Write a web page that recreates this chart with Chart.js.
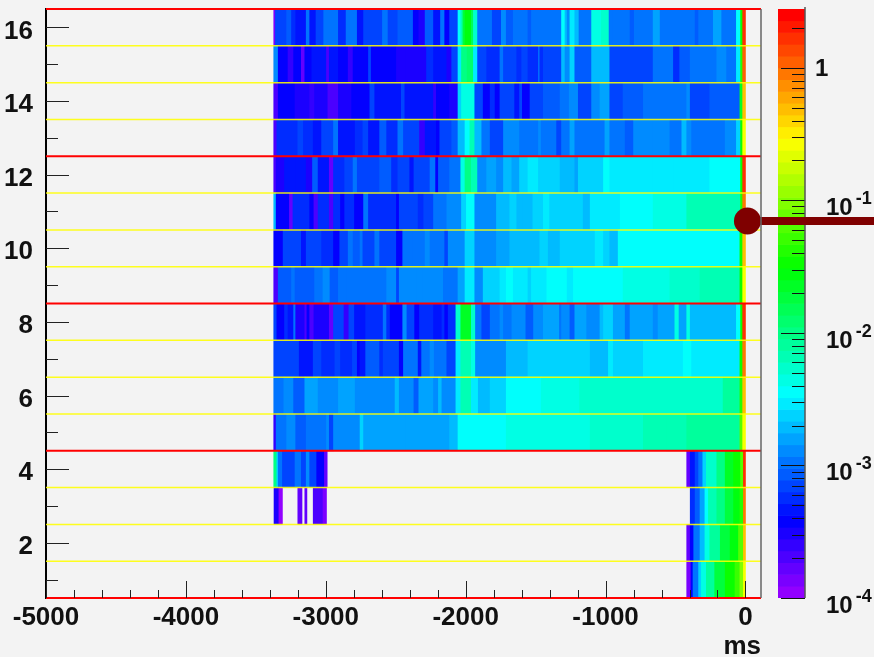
<!DOCTYPE html>
<html>
<head>
<meta charset="utf-8">
<script src="https://cdn.jsdelivr.net/npm/chart.js@4"></script>
<style>
html,body{margin:0;padding:0;background:#f3f3f3;width:874px;height:657px;overflow:hidden}
canvas{position:absolute;top:0;display:block}
#bar{left:760px}
#main{left:0}
</style>
</head>
<body>
<canvas id="bar" width="114" height="657"></canvas>
<canvas id="main" width="874" height="657"></canvas>
<script>
// Each row: [start in ms, amplitude] runs; amplitude null closes a run (empty cells follow).
const row16=[[-3372,1.3e-4],[-3360,7.5e-4],[-3280,8.7e-4],[-3245,5.6e-4],[-3215,4.2e-4],[-3140,9.7e-4],[-3115,4.5e-4],[-3070,7.5e-4],[-3015,1.07e-3],[-2910,5.2e-4],[-2855,9.7e-4],[-2775,4.7e-4],[-2730,7.5e-4],[-2595,1.07e-3],[-2555,6.7e-4],[-2485,8.7e-4],[-2375,3.9e-4],[-2335,3e-4],[-2290,8.1e-4],[-2230,4.2e-4],[-2180,1.16e-3],[-2150,3.9e-4],[-2115,6.7e-4],[-2055,3.5e-3],[-2035,7.2e-3],[-2020,1.8e-2],[-2005,2.6e-2],[-1960,1.5e-2],[-1945,5e-3],[-1915,1.07e-3],[-1850,1.16e-3],[-1810,7.5e-4],[-1745,1.25e-3],[-1710,8.1e-4],[-1660,1.07e-3],[-1615,1.16e-3],[-1555,8.1e-4],[-1530,1e-3],[-1460,1.16e-3],[-1315,3.5e-3],[-1290,1.8e-3],[-1275,1.25e-3],[-1255,2.9e-3],[-1220,1.8e-3],[-1190,1e-3],[-1100,4.7e-3],[-1030,5.4e-3],[-975,1.16e-3],[-945,1.07e-3],[-825,8.7e-4],[-795,1.16e-3],[-660,1.5e-3],[-610,1.16e-3],[-540,1.16e-3],[-360,8.7e-4],[-335,1.16e-3],[-230,1.5e-3],[-170,1.16e-3],[-65,3.5e-3],[-35,3.1e-2],[-20,1.65],[0,null]];
const row15=[[-3372,1.4e-3],[-3340,3.9e-4],[-3270,2.5e-4],[-3230,3.9e-4],[-3175,1.75e-4],[-3150,3.9e-4],[-3100,4.7e-4],[-2995,2e-4],[-2975,4.2e-4],[-2910,3.9e-4],[-2840,2.7e-4],[-2805,3.9e-4],[-2695,6.7e-4],[-2675,3.9e-4],[-2495,2.9e-4],[-2425,3.3e-4],[-2280,5.6e-4],[-2230,4.2e-4],[-2135,3.2e-4],[-2100,6.7e-4],[-2055,2.9e-3],[-2030,1.04e-2],[-1990,1.25e-2],[-1945,2.9e-3],[-1915,6.7e-4],[-1850,6e-4],[-1755,9.7e-4],[-1730,6.7e-4],[-1635,5.6e-4],[-1600,6.7e-4],[-1555,6e-4],[-1480,9.7e-4],[-1470,5.2e-4],[-1445,7.5e-4],[-1315,2e-3],[-1290,1.4e-3],[-1255,2.25e-3],[-1220,8.7e-4],[-1100,2e-3],[-1040,1.9e-3],[-970,6.7e-4],[-945,7.5e-4],[-660,1e-3],[-515,5.6e-4],[-470,8.7e-4],[-395,1e-3],[-205,1.25e-3],[-135,1e-3],[-65,2.9e-3],[-35,4.4e-2],[-20,1.15],[0,null]];
const row14=[[-3372,2.25e-4],[-3340,3.9e-4],[-3220,3.2e-4],[-3115,2.5e-4],[-3080,3.2e-4],[-2985,2.2e-4],[-2910,3.4e-4],[-2815,3.9e-4],[-2685,6.7e-4],[-2650,4.2e-4],[-2460,7.5e-4],[-2435,4.7e-4],[-2230,2.5e-4],[-2210,3.9e-4],[-2115,3.2e-4],[-2055,2.4e-3],[-2030,4.7e-3],[-1935,6.7e-4],[-1875,3.9e-4],[-1825,5.6e-4],[-1790,3.9e-4],[-1755,6.7e-4],[-1650,4.2e-4],[-1615,6.7e-4],[-1595,3.9e-4],[-1540,7.5e-4],[-1445,8.7e-4],[-1325,1.16e-3],[-1260,1.25e-3],[-1195,6.7e-4],[-1100,1.4e-3],[-1040,1.7e-3],[-970,7.5e-4],[-875,8.1e-4],[-730,9.7e-4],[-420,1.4e-3],[-395,7.5e-4],[-255,9e-4],[-40,2.1e-2],[-20,.54],[0,null]];
const row13=[[-3372,2.25e-4],[-3350,5.2e-4],[-3200,7.5e-4],[-3160,5.2e-4],[-3090,4.2e-4],[-3030,7.5e-4],[-3005,6.7e-4],[-2945,9.7e-4],[-2910,4.2e-4],[-2790,6e-4],[-2735,7.5e-4],[-2695,4.7e-4],[-2615,8.7e-4],[-2565,5.2e-4],[-2485,9.7e-4],[-2445,6.7e-4],[-2330,2.7e-4],[-2290,4.7e-4],[-2210,3.9e-4],[-2185,6.7e-4],[-2100,8.7e-4],[-2055,2e-3],[-2005,3.5e-3],[-1970,6e-3],[-1935,2e-3],[-1885,9.7e-4],[-1825,7.5e-4],[-1730,1.4e-3],[-1615,9.7e-4],[-1480,1.4e-3],[-1460,1.16e-3],[-1350,6.7e-4],[-1315,1.16e-3],[-1255,1.7e-3],[-1220,1.07e-3],[-1005,1.7e-3],[-970,9.7e-4],[-860,8.1e-4],[-800,1.25e-3],[-660,1.4e-3],[-540,1.16e-3],[-455,1.8e-3],[-420,1.4e-3],[-385,1.16e-3],[-145,1.3e-3],[-65,2.4e-3],[-35,3.1e-2],[-20,.27],[0,null]];
const row12=[[-3372,2e-4],[-3355,3.2e-4],[-3295,4.2e-4],[-3215,4.7e-4],[-3140,3.1e-4],[-3095,8.7e-4],[-3055,4.7e-4],[-2975,1.75e-4],[-2945,5.2e-4],[-2865,6.7e-4],[-2805,9.7e-4],[-2775,7.5e-4],[-2615,8.7e-4],[-2530,5.2e-4],[-2485,7.5e-4],[-2400,4.2e-4],[-2370,7.5e-4],[-2255,1.07e-3],[-2215,3.9e-4],[-2195,8.7e-4],[-2115,1.16e-3],[-2035,4.2e-3],[-2005,1.04e-2],[-1960,6e-3],[-1915,1.4e-3],[-1850,1.7e-3],[-1780,1.4e-3],[-1730,2e-3],[-1670,1.7e-3],[-1615,2.4e-3],[-1555,2.7e-3],[-1480,2.4e-3],[-1325,2e-3],[-1220,1.7e-3],[-1195,2.4e-3],[-1015,3.5e-3],[-970,3.1e-3],[-875,2.9e-3],[-660,2.7e-3],[-515,3.1e-3],[-255,3.8e-3],[-35,3.1e-2],[-20,1.65],[0,null]];
const row11=[[-3372,2e-3],[-3355,3.9e-4],[-3260,1.75e-4],[-3235,5.2e-4],[-3115,3.5e-4],[-3085,2e-4],[-3055,5.2e-4],[-2975,2.25e-4],[-2945,6e-4],[-2895,3.9e-4],[-2865,5.2e-4],[-2795,3.5e-4],[-2730,1.16e-3],[-2695,6e-4],[-2495,3.5e-4],[-2475,7.5e-4],[-2340,5.6e-4],[-2300,6.7e-4],[-2230,9.7e-4],[-2135,1.25e-3],[-2030,2.4e-3],[-1995,3.8e-3],[-1935,1.4e-3],[-1780,2e-3],[-1685,2.4e-3],[-1635,2e-3],[-1590,2e-3],[-1520,2.4e-3],[-1445,2.9e-3],[-1400,2.2e-3],[-1230,2.6e-3],[-1160,2e-3],[-1110,3.1e-3],[-895,3.5e-3],[-660,4.2e-3],[-420,6e-3],[-255,7.2e-3],[-35,4.4e-2],[-20,.95],[0,null]];
const row10=[[-3372,3.9e-4],[-3305,6.7e-4],[-3175,4.7e-4],[-3140,7.5e-4],[-3030,6e-4],[-2945,3.9e-4],[-2900,6.7e-4],[-2840,1.16e-3],[-2805,8.7e-4],[-2755,1.07e-3],[-2735,7.5e-4],[-2650,1.07e-3],[-2615,7.5e-4],[-2495,3.9e-4],[-2450,1.07e-3],[-2375,9.7e-4],[-2290,1.4e-3],[-2255,9.7e-4],[-2150,7.5e-4],[-2125,1.4e-3],[-2005,2.4e-3],[-1935,1.4e-3],[-1780,1.5e-3],[-1685,2e-3],[-1470,2.4e-3],[-1410,2e-3],[-1325,2.25e-3],[-1075,2.9e-3],[-1015,2.6e-3],[-970,2e-3],[-910,3.5e-3],[-515,3.8e-3],[-40,3.7e-2],[-20,.54],[0,null]];
const row9=[[-3372,2.25e-4],[-3340,8.1e-4],[-3245,1.16e-3],[-3220,8.1e-4],[-3080,1.07e-3],[-3020,1.25e-3],[-2970,8.7e-4],[-2910,1.07e-3],[-2850,9.7e-4],[-2565,1.4e-3],[-2495,6.7e-4],[-2475,1.25e-3],[-2350,1.4e-3],[-2305,1.25e-3],[-2160,1.07e-3],[-2055,1.7e-3],[-2005,2.9e-3],[-1935,1.4e-3],[-1875,2.4e-3],[-1755,2.9e-3],[-1710,3.5e-3],[-1660,2.7e-3],[-1555,2.25e-3],[-1530,2.9e-3],[-1420,3.8e-3],[-1275,2.9e-3],[-1230,3.5e-3],[-875,4.2e-3],[-540,5e-3],[-325,6e-3],[-40,3.7e-2],[-20,.27],[0,null]];
const row8=[[-3372,6.7e-4],[-3350,3.9e-4],[-3295,5.2e-4],[-3270,4.2e-4],[-3230,1.16e-3],[-3215,3.2e-4],[-3150,2.25e-4],[-3135,3.9e-4],[-3115,2e-4],[-3085,3e-4],[-2975,1.6e-4],[-2945,6.7e-4],[-2870,2.7e-4],[-2835,6.7e-4],[-2795,4.2e-4],[-2715,5.2e-4],[-2590,9.7e-4],[-2565,6e-4],[-2540,3.9e-4],[-2450,1.25e-3],[-2420,6.7e-4],[-2365,3.9e-4],[-2330,5.6e-4],[-2230,4.2e-4],[-2170,5.6e-4],[-2150,3.5e-4],[-2125,5.2e-4],[-2070,5e-3],[-2035,2.1e-2],[-1960,5e-3],[-1930,9.7e-4],[-1885,7.5e-4],[-1825,9.7e-4],[-1790,1.16e-3],[-1755,1.4e-3],[-1730,1.07e-3],[-1670,1.4e-3],[-1570,8.7e-4],[-1515,1.4e-3],[-1445,1.7e-3],[-1330,9.7e-4],[-1315,1.25e-3],[-1255,8.7e-4],[-1220,1.7e-3],[-1135,1.4e-3],[-1040,2e-3],[-1015,2.4e-3],[-945,1.5e-3],[-860,1.07e-3],[-825,1.7e-3],[-660,1.25e-3],[-625,1.7e-3],[-505,4.2e-3],[-475,1.7e-3],[-420,4.2e-3],[-395,1.8e-3],[-65,3.5e-3],[-35,3.1e-2],[-20,1.65],[0,null]];
const row7=[[-3372,7.5e-4],[-3190,4.7e-4],[-3090,6.7e-4],[-3030,5.2e-4],[-2935,7.5e-4],[-2895,5.2e-4],[-2810,6.7e-4],[-2775,3.9e-4],[-2755,4.7e-4],[-2715,8.7e-4],[-2615,5.2e-4],[-2590,6.7e-4],[-2475,3.9e-4],[-2445,9.7e-4],[-2340,4.7e-4],[-2315,1.07e-3],[-2255,1.4e-3],[-2225,1.07e-3],[-2135,7.5e-4],[-2070,2.9e-3],[-2035,7.2e-3],[-1960,4.2e-3],[-1930,1.4e-3],[-1710,2e-3],[-1555,2.2e-3],[-1480,2.25e-3],[-1110,1.9e-3],[-980,2.9e-3],[-945,2.25e-3],[-730,2.7e-3],[-565,3.1e-3],[-505,2.9e-3],[-445,3.8e-3],[-385,3.1e-3],[-40,3.7e-2],[-20,.95],[0,null]];
const row6=[[-3372,1.03e-3],[-3300,1.3e-3],[-3230,8.7e-4],[-3150,1.5e-3],[-3055,1.4e-3],[-2910,1.7e-3],[-2790,1.4e-3],[-2505,1.8e-3],[-2475,1.4e-3],[-2370,8.7e-4],[-2335,1.7e-3],[-2230,1.3e-3],[-2195,2e-3],[-2170,1.4e-3],[-2070,2.9e-3],[-2035,6e-3],[-1960,2.9e-3],[-1910,2e-3],[-1825,2.6e-3],[-1710,3.5e-3],[-1565,3.8e-3],[-1460,4.7e-3],[-1185,5e-3],[-1015,5.6e-3],[-160,8.6e-3],[-40,4.4e-2],[-20,.54],[0,null]];
const row5=[[-3372,2.7e-4],[-3355,9.7e-4],[-3280,1.4e-3],[-3215,8.7e-4],[-3140,1.07e-3],[-2995,1.4e-3],[-2975,7.5e-4],[-2945,1.4e-3],[-2755,2.4e-3],[-2730,1.7e-3],[-2425,1.5e-3],[-2115,2e-3],[-2055,3.5e-3],[-1995,3.8e-3],[-1945,3.5e-3],[-1825,3.8e-3],[-1710,4.2e-3],[-1445,4.7e-3],[-1110,5.4e-3],[-730,6e-3],[-565,7.2e-3],[-420,8.6e-3],[-40,6.3e-2],[-20,.27],[0,null]];
const row4=[[-3372,1.04e-2],[-3350,2.4e-3],[-3340,9.7e-4],[-3310,6.7e-4],[-3220,1.16e-3],[-3175,6.7e-4],[-3140,1.25e-3],[-3115,6.7e-4],[-3065,3.9e-4],[-3010,1.75e-4],[-2990,null],[-420,1.75e-4],[-395,4.7e-4],[-360,6.7e-4],[-335,1.16e-3],[-305,2.4e-3],[-280,5e-3],[-205,1.04e-2],[-145,2.1e-2],[-85,3.1e-2],[-35,6.3e-2],[-15,1.8],[0,null]];
const row3=[[-3370,3.2e-4],[-3335,1.2e-4],[-3310,null],[-3200,1.75e-4],[-3170,null],[-3150,1.6e-4],[-3135,null],[-3090,2.25e-4],[-3020,1.3e-4],[-2995,null],[-395,5.6e-4],[-360,8.7e-4],[-325,1.7e-3],[-290,3.5e-3],[-265,6e-3],[-205,1.04e-2],[-145,1.8e-2],[-85,2.6e-2],[-40,4.4e-2],[-15,.95],[0,null]];
const row2=[[-420,1.75e-4],[-395,3.9e-4],[-370,9.7e-4],[-325,2e-3],[-290,4.2e-3],[-255,8.6e-3],[-180,1.8e-2],[-110,2.9e-2],[-50,6.3e-2],[-15,.54],[0,null]];
const row1=[[-420,1.3e-4],[-390,3.9e-4],[-375,9.7e-4],[-335,2.4e-3],[-315,4.7e-3],[-280,8.6e-3],[-220,1.8e-2],[-145,3.1e-2],[-75,5.3e-2],[-40,9e-2],[-15,.27],[0,null]];

const rows=[row1,row2,row3,row4,row5,row6,row7,row8,row9,row10,row11,row12,row13,row14,row15,row16];
const rowNumbers=[1,2,3,4,5,6,7,8,9,10,11,12,13,14,15,16];
const yellowLines=[1.5,2.5,3.5,5.5,6.5,7.5,9.5,10.5,11.5,13.5,14.5,15.5];
const redLines=[0.5,4.5,8.5,12.5,16.5];
const xMajorTicks=[-5000,-4000,-3000,-2000,-1000,0];
const xMinorTicks=[-4800,-4600,-4400,-4200,-3800,-3600,-3400,-3200,-2800,-2600,-2400,-2200,-1800,-1600,-1400,-1200,-800,-600,-400,-200];
const xRange=[-5000,111];
const yRange=[0.5,16.5];
const markerX=[14,920];
const markerY=[10.74,10.74];
const axisUnit='ms';
const zRange=[1e-4,2.78];
const zDecades=[1e-4,1e-3,1e-2,1e-1,1];
const zDecadeText=[['10','-4'],['10','-3'],['10','-2'],['10','-1'],['1','']];
const zMinorTicks=[2e-4,3e-4,4e-4,5e-4,6e-4,7e-4,8e-4,9e-4,2e-3,3e-3,4e-3,5e-3,6e-3,7e-3,8e-3,9e-3,2e-2,3e-2,4e-2,5e-2,6e-2,7e-2,8e-2,9e-2,.2,.3,.4,.5,.6,.7,.8,.9,2];

const BANDS=50;
const FONT='"Liberation Sans", Arial, sans-serif';
const logSpan=Math.log10(zRange[1]/zRange[0]);
function bandHue(i){return 280-(i+1)*280/BANDS;}
function cellColor(v){
  const i=Math.min(BANDS-1,Math.max(0,Math.floor(BANDS*Math.log10(v/zRange[0])/logSpan)));
  return 'hsl('+bandHue(i)+',100%,50%)';
}
const SEAM=4;
const rowDatasets=rows.map((row,r)=>{
  const data=[],colors=[];
  for(let i=0;i<row.length-1;i++){
    if(row[i][1]===null)continue;
    data.push({x:[row[i][0],row[i+1][0]+(row[i+1][1]===null?0:SEAM)],y:rowNumbers[r]});
    colors.push(cellColor(row[i][1]));
  }
  return {type:'bar',data,backgroundColor:colors,borderWidth:0,barPercentage:1,categoryPercentage:1,grouped:false,order:5};
});
const hLine=(y,color,width,order)=>({type:'line',data:[{x:xRange[0],y},{x:xRange[1],y}],borderColor:color,borderWidth:width,pointRadius:0,clip:false,order});
const datasets=[
  ...rowDatasets,
  ...yellowLines.map(y=>hLine(y,'rgba(255,255,0,0.88)',1.5,3)),
  ...redLines.map(y=>hLine(y,'#ff0000',2.2,2)),
  {type:'line',data:markerX.map((x,i)=>({x,y:markerY[i]})),borderColor:'#7f0000',backgroundColor:'#7f0000',borderWidth:8,
   pointRadius:[13.5,0],pointBorderWidth:0,clip:false,order:1}
];
const axisMarks={
  id:'axisMarks',
  afterDatasetsDraw(c){
    const {ctx,scales:{x,y},chartArea:a}=c;
    ctx.save();
    ctx.strokeStyle='#222';ctx.lineWidth=1;
    ctx.beginPath();
    const seg=(x1,y1,x2,y2)=>{ctx.moveTo(x1,y1);ctx.lineTo(x2,y2);};
    xMajorTicks.forEach(v=>{const p=Math.round(x.getPixelForValue(v))+.5;seg(p,a.bottom,p,a.bottom-17);});
    xMinorTicks.forEach(v=>{const p=Math.round(x.getPixelForValue(v))+.5;seg(p,a.bottom,p,a.bottom-8);});
    rowNumbers.forEach(n=>{const p=Math.round(y.getPixelForValue(n))+.5;seg(a.left,p,a.left+(n%2?12:23),p);});
    ctx.stroke();
    ctx.strokeStyle='#666';ctx.lineWidth=1.5;
    ctx.beginPath();seg(a.right,a.top,a.right,a.bottom);ctx.stroke();
    ctx.restore();
  }
};
new Chart(document.getElementById('main'),{
  data:{datasets},
  plugins:[axisMarks],
  options:{
    responsive:false,animation:false,events:[],indexAxis:'y',
    layout:{autoPadding:false,padding:{top:9,right:113,left:0,bottom:0}},
    plugins:{legend:{display:false},tooltip:{enabled:false},title:{display:false}},
    scales:{
      x:{type:'linear',min:xRange[0],max:xRange[1],
        afterFit(s){s.height=59;s.paddingLeft=0;s.paddingRight=0;},
        afterBuildTicks(s){s.ticks=xMajorTicks.map(value=>({value}));},
        grid:{display:false},border:{display:false},
        ticks:{maxRotation:0,autoSkip:false,padding:-4,color:'#111',font:{family:FONT,size:26,weight:'bold'},callback:v=>String(v)},
        title:{display:true,text:axisUnit,align:'end',color:'#111',padding:{top:0,bottom:-5},font:{family:FONT,size:26,weight:'bold'}}},
      y:{type:'linear',min:yRange[0],max:yRange[1],offset:false,
        afterFit(s){s.width=46;s.paddingTop=0;s.paddingBottom=0;},
        afterBuildTicks(s){s.ticks=rowNumbers.map(value=>({value}));},
        grid:{display:false,offset:false},border:{display:true,color:'#000',width:2},
        ticks:{autoSkip:false,padding:5,labelOffset:4,color:'#111',font:{family:FONT,size:26,weight:'bold'},
          callback:v=>(v%2===0?String(v):'')}}
    }
  }
});

// colour scale
const bandEdges=[];
for(let i=0;i<=BANDS;i++)bandEdges.push(zRange[0]*Math.pow(10,logSpan*i/BANDS));
const barData=[],barColors=[];
for(let i=0;i<BANDS;i++){barData.push({x:'z',y:[bandEdges[i],bandEdges[i+1]]});barColors.push('hsl('+bandHue(i)+',100%,50%)');}
const zMarks={
  id:'zMarks',
  afterDatasetsDraw(c){
    const {ctx,scales:{y},chartArea:a}=c;
    ctx.save();
    ctx.strokeStyle='#111';ctx.lineWidth=1;ctx.beginPath();
    zDecades.forEach(v=>{const p=Math.round(y.getPixelForValue(v))+.5;ctx.moveTo(a.right,p);ctx.lineTo(a.right-24,p);});
    zMinorTicks.forEach(v=>{const p=Math.round(y.getPixelForValue(v))+.5;ctx.moveTo(a.right,p);ctx.lineTo(a.right-13,p);});
    ctx.stroke();
    ctx.strokeStyle='#555';ctx.lineWidth=1.5;ctx.beginPath();ctx.moveTo(a.right,a.top-2);ctx.lineTo(a.right,a.bottom);ctx.stroke();
    ctx.fillStyle='#111';ctx.textAlign='left';ctx.textBaseline='alphabetic';
    zDecades.forEach((v,i)=>{
      const p=y.getPixelForValue(v),t=zDecadeText[i];
      if(t[1]){
        ctx.font='bold 24px '+FONT;
        ctx.fillText(t[0],a.right+21,p+15);
        const w=ctx.measureText(t[0]).width;
        ctx.font='bold 18px '+FONT;
        ctx.fillText(t[1],a.right+21+w+3,p+4);
      }else{
        ctx.font='bold 24px '+FONT;
        ctx.fillText(t[0],a.right+10,p+8);
      }
    });
    ctx.restore();
  }
};
new Chart(document.getElementById('bar'),{
  type:'bar',
  data:{labels:['z'],datasets:[{data:barData,backgroundColor:barColors,borderWidth:0,barPercentage:1,categoryPercentage:1}]},
  plugins:[zMarks],
  options:{
    responsive:false,animation:false,events:[],
    layout:{padding:{top:9,bottom:59,left:18,right:69}},
    plugins:{legend:{display:false},tooltip:{enabled:false}},
    scales:{
      x:{display:false},
      y:{display:false,type:'logarithmic',min:zRange[0],max:zRange[1]}
    }
  }
});
</script>
</body>
</html>
